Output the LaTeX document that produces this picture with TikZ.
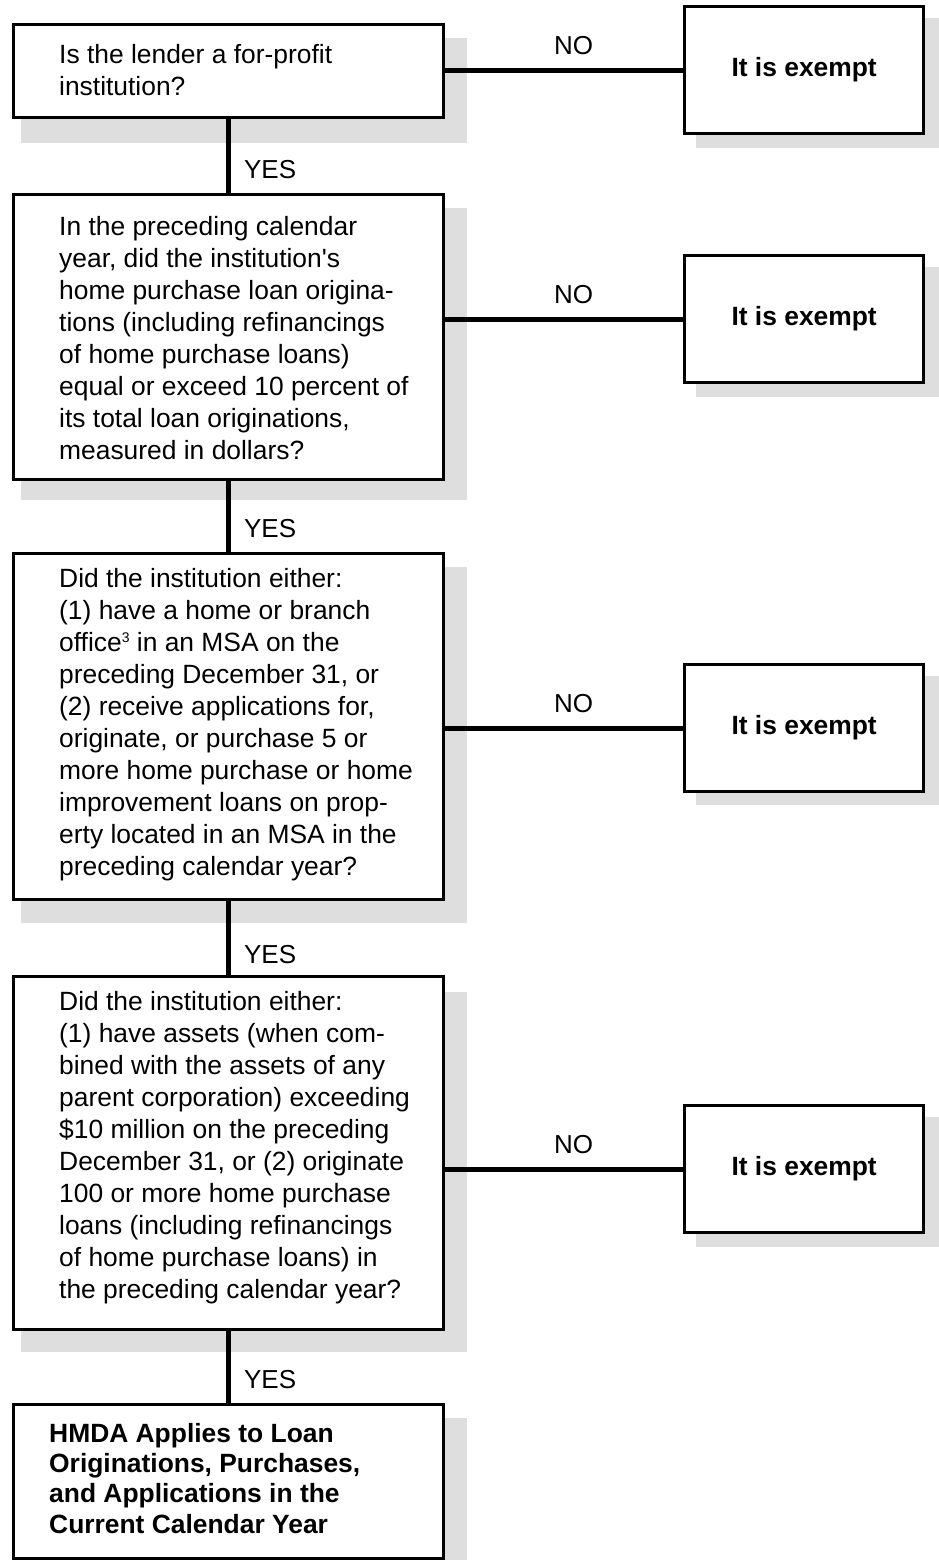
\documentclass[tikz,border=0pt]{standalone}
\usepackage{fontspec}
\setmainfont{Liberation Sans}
\definecolor{shade}{HTML}{DEDEDE}
\begin{document}
\begin{tikzpicture}[x=1pt,y=-1pt,
  shadowfill/.style={fill=shade},
  qbox/.style={draw, line width=3.3pt, fill=white, rectangle, inner sep=0pt,
    minimum width=430pt, anchor=north west},
  qtext/.style={inner sep=0pt, anchor=north west, align=left,
    font=\fontsize{26.4}{32}\selectfont},
  btext/.style={inner sep=0pt, anchor=north west, align=left,
    font=\bfseries\fontsize{26.4}{30.3}\selectfont},
  ebox/.style={draw, line width=3.3pt, fill=white, rectangle, inner sep=0pt,
    minimum width=239pt, minimum height=127pt, anchor=north west,
    font=\bfseries\fontsize{26.4}{30}\selectfont},
  conn/.style={line width=5pt},
  yeslab/.style={anchor=west, inner sep=0pt, xshift=13pt,
    font=\fontsize{26}{30}\selectfont},
  nolab/.style={anchor=south, inner sep=0pt, yshift=12.5pt,
    font=\fontsize{26}{30}\selectfont}
]
\useasboundingbox (0,0) rectangle (939,1560);

% shadows
\fill[shadowfill] (21,38) rectangle (467,143);
\fill[shadowfill] (21,208) rectangle (467,500);
\fill[shadowfill] (21,567) rectangle (467,923);
\fill[shadowfill] (21,992) rectangle (467,1352);
\fill[shadowfill] (21,1418) rectangle (467,1560);
\fill[shadowfill] (696,18) rectangle (939,148);
\fill[shadowfill] (696,267) rectangle (939,397);
\fill[shadowfill] (696,676) rectangle (939,805);
\fill[shadowfill] (696,1117) rectangle (939,1247);

% question boxes
\node[qbox, minimum height=93pt]  (q1) at (12,23) {};
\node[qbox, minimum height=285pt] (q2) at (12,193) {};
\node[qbox, minimum height=346pt] (q3) at (12,552) {};
\node[qbox, minimum height=353pt] (q4) at (12,975) {};
\node[qbox, minimum height=154pt] (q5) at (12,1403) {};

% texts
\node[qtext] (t1) at (59,43.8) {Is the lender a for-profit\\institution?};
\node[qtext] (t2) at (59,215.8) {In the preceding calendar\\
year, did the institution\textquotesingle s\\
home purchase loan origina-\\
tions (including refinancings\\
of home purchase loans)\\
equal or exceed 10 percent of\\
its total loan originations,\\
measured in dollars?};
\node[qtext] (t3) at (59,567.8) {Did the institution either:\\
(1) have a home or branch\\
office\raisebox{8.9pt}{\fontsize{14}{14}\selectfont 3} in an MSA on the\\
preceding December 31, or\\
(2) receive applications for,\\
originate, or purchase 5 or\\
more home purchase or home\\
improvement loans on prop-\\
erty located in an MSA in the\\
preceding calendar year?};
\node[qtext] (t4) at (59,990.8) {Did the institution either:\\
(1) have assets (when com-\\
bined with the assets of any\\
parent corporation) exceeding\\
\$10 million on the preceding\\
December 31, or (2) originate\\
100 or more home purchase\\
loans (including refinancings\\
of home purchase loans) in\\
the preceding calendar year?};
\node[btext] (t5) at (49,1422.8) {HMDA Applies to Loan\\
Originations, Purchases,\\
and Applications in the\\
Current Calendar Year};

% exempt boxes
\node[ebox] (e1) at (683,5) {It is exempt};
\node[ebox] (e2) at (683,254) {It is exempt};
\node[ebox] (e3) at (683,663) {It is exempt};
\node[ebox] (e4) at (683,1104) {It is exempt};

% connectors
\draw[conn] (q1.south) -- node[yeslab, pos=0.68] {YES} (q2.north);
\draw[conn] (q2.south) -- node[yeslab, pos=0.67] {YES} (q3.north);
\draw[conn] (q3.south) -- node[yeslab, pos=0.72] {YES} (q4.north);
\draw[conn] (q4.south) -- node[yeslab, pos=0.67] {YES} (q5.north);

\draw[conn] (e1.west -| q1.east) -- node[nolab, pos=0.54] {NO} (e1.west);
\draw[conn] (e2.west -| q2.east) -- node[nolab, pos=0.54] {NO} (e2.west);
\draw[conn] (e3.west -| q3.east) -- node[nolab, pos=0.54] {NO} (e3.west);
\draw[conn] (e4.west -| q4.east) -- node[nolab, pos=0.54] {NO} (e4.west);
\end{tikzpicture}
\end{document}
